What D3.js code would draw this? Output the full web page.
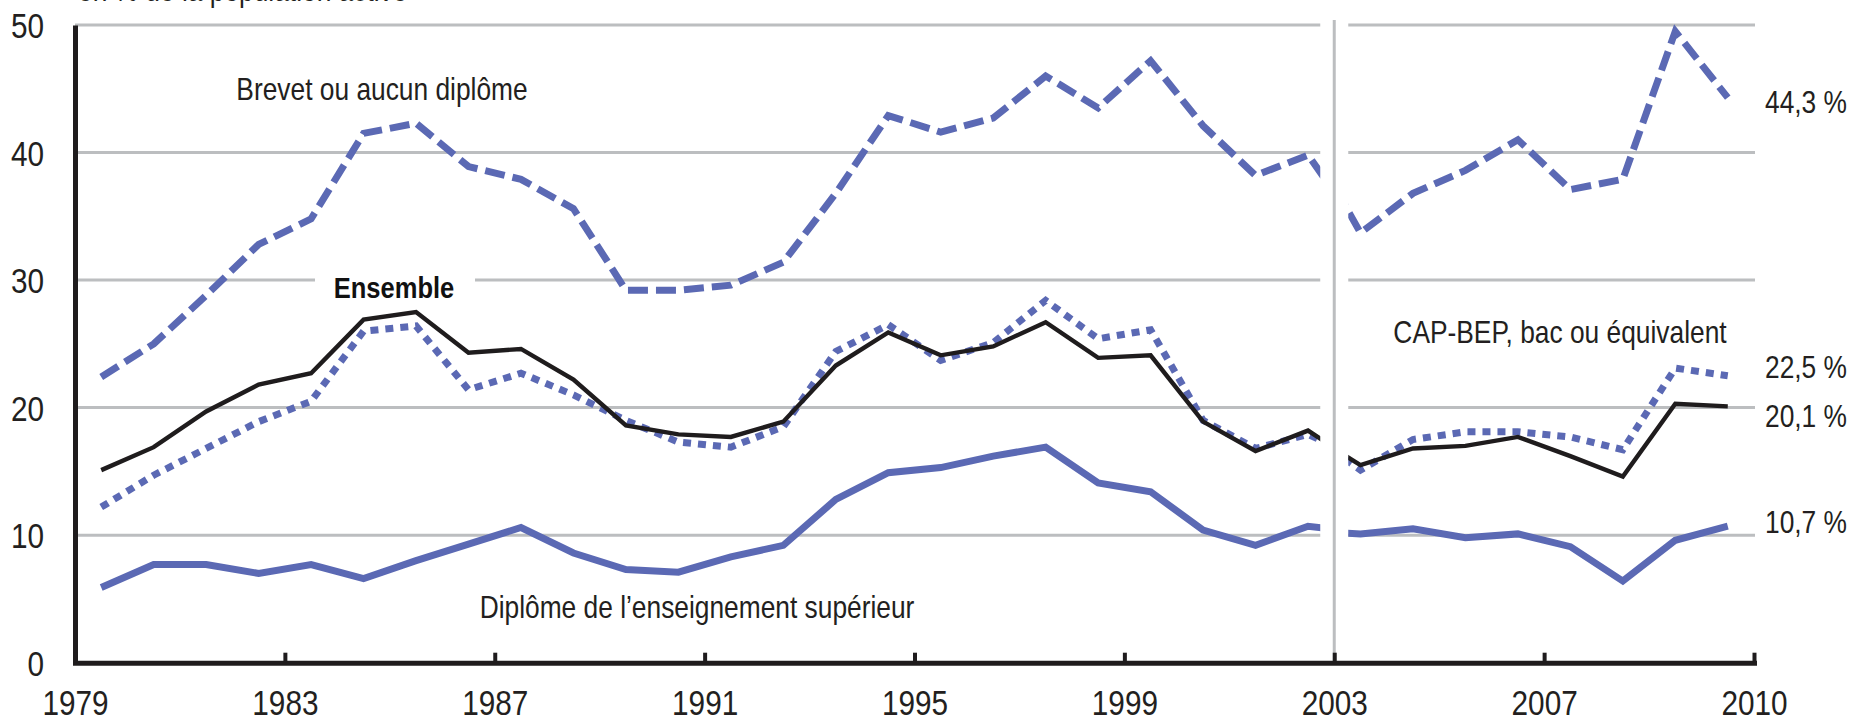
<!DOCTYPE html>
<html>
<head>
<meta charset="utf-8">
<script src="https://cdn.jsdelivr.net/npm/d3@7"></script>
<style>
  html, body { margin: 0; padding: 0; background: #fff; }
  svg text { font-family: "Liberation Sans", Arial, sans-serif; fill: #231f20; }
</style>
</head>
<body>
<div id="chart"></div>
<script>
// values (% of active population), points sit mid-year
const yearsOld = [1979, 1980, 1981, 1982, 1983, 1984, 1985, 1986, 1987, 1988, 1989, 1990,
  1991, 1992, 1993, 1994, 1995, 1996, 1997, 1998, 1999, 2000, 2001, 2002, 2003];
const brevetOld = [22.4, 25.0, 28.8, 32.8, 34.8, 41.5, 42.3, 38.9, 37.9, 35.6, 29.2, 29.2,
  29.6, 31.4, 36.8, 42.9, 41.6, 42.7, 46.0, 43.5, 47.2, 42.1, 38.2, 39.8, 34.0];
const capOld = [12.2, 14.7, 16.8, 18.9, 20.5, 26.0, 26.4, 21.4, 22.7, 21.0, 19.0, 17.3,
  16.9, 18.5, 24.4, 26.5, 23.7, 25.1, 28.4, 25.4, 26.1, 19.0, 16.8, 17.9, 16.0];
const ensembleOld = [15.1, 16.9, 19.7, 21.8, 22.7, 26.9, 27.5, 24.3, 24.6, 22.2, 18.6, 17.9,
  17.7, 18.9, 23.3, 25.9, 24.1, 24.8, 26.7, 23.9, 24.1, 18.9, 16.6, 18.2, 15.5];
const supOld = [5.9, 7.7, 7.7, 7.0, 7.7, 6.6, 8.0, 9.3, 10.6, 8.6, 7.3, 7.1,
  8.3, 9.2, 12.8, 14.9, 15.3, 16.2, 16.9, 14.1, 13.4, 10.4, 9.2, 10.7, 10.2];

const yearsNew = [2002, 2003, 2004, 2005, 2006, 2007, 2008, 2009, 2010];
const brevetNew = [41.0, 33.7, 36.8, 38.6, 41.0, 37.1, 37.9, 49.5, 44.3];
const capNew = [18.0, 15.1, 17.5, 18.1, 18.1, 17.7, 16.7, 23.1, 22.5];
const ensembleNew = [18.0, 15.5, 16.8, 17.0, 17.7, 16.2, 14.6, 20.3, 20.1];
const supNew = [10.3, 10.1, 10.5, 9.8, 10.1, 9.1, 6.4, 9.6, 10.7];

const yTicks = [0, 10, 20, 30, 40, 50];
const xTicks = [1979, 1983, 1987, 1991, 1995, 1999, 2003, 2007, 2011];
const xTickLabels = ["1979", "1983", "1987", "1991", "1995", "1999", "2003", "2007", "2010"];
const endLabels = ["44,3 %", "22,5 %", "20,1 %", "10,7 %"];

const width = 1855, height = 721;
const blue = "#5b69b4", grid = "#bcbec0", ink = "#1f1c1d";
const narrow = 0.85; // the original uses a condensed face

const svg = d3.select("#chart").append("svg")
  .attr("width", width)
  .attr("height", height);

const x = d3.scaleLinear().domain([1979, 2011]).range([75, 1754]);
const y = d3.scaleLinear().domain([0, 50]).range([662.7, 25]);

// two panels split at 2003 (change of survey)
const panels = [
  { id: "old", x0: x.range()[0], x1: x(2003) - 14 },
  { id: "new", x0: x(2003) + 14, x1: x.range()[1] + 1 }
];

svg.append("defs").selectAll("clipPath")
  .data(panels)
  .join("clipPath")
  .attr("id", d => "clip-" + d.id)
  .append("rect")
  .attr("x", d => d.x0)
  .attr("y", 0)
  .attr("width", d => d.x1 - d.x0)
  .attr("height", height);

// condensed text helper
function note(parent, t, px, py, size, anchor, bold) {
  const g = parent.append("g").attr("transform", `translate(${px},${py}) scale(${narrow},1)`);
  const txt = g.append("text")
    .attr("text-anchor", anchor)
    .style("font-size", size + "px")
    .text(t);
  if (bold) txt.style("font-weight", "bold").style("fill", "#111");
  return txt;
}

// title, mostly cut off at the top
note(svg, "en % de la population active", 78, 1, 31, "start");

// gridlines
panels.forEach(p => {
  svg.append("g").selectAll("line")
    .data(yTicks.filter(t => t > 0))
    .join("line")
    .attr("x1", p.x0)
    .attr("x2", p.x1)
    .attr("y1", d => y(d))
    .attr("y2", d => y(d))
    .attr("stroke", grid)
    .attr("stroke-width", 3);
});

// separator line at 2003
svg.append("line")
  .attr("x1", x(2003)).attr("x2", x(2003))
  .attr("y1", 20).attr("y2", y(0))
  .attr("stroke", grid)
  .attr("stroke-width", 3);

// Ensemble label with white box over the 30 gridline
svg.append("rect")
  .attr("x", 315).attr("y", 268)
  .attr("width", 160).attr("height", 34)
  .attr("fill", "#fff");
note(svg, "Ensemble", 394, 298, 30, "middle", true);

const line = d3.line()
  .x(d => x(d[0] + 0.5))
  .y(d => y(d[1]));

const series = [
  { name: "sup", old: supOld, neu: supNew, color: blue, w: 7, dash: null },
  { name: "cap", old: capOld, neu: capNew, color: blue, w: 7, dash: "8,7" },
  { name: "ens", old: ensembleOld, neu: ensembleNew, color: ink, w: 4.4, dash: null },
  { name: "brevet", old: brevetOld, neu: brevetNew, color: blue, w: 7, dash: "20,8" }
];

series.forEach(s => {
  [["old", yearsOld, s.old], ["new", yearsNew, s.neu]].forEach(([id, yrs, vals]) => {
    svg.append("path")
      .datum(yrs.map((yr, i) => [yr, vals[i]]))
      .attr("clip-path", `url(#clip-${id})`)
      .attr("fill", "none")
      .attr("stroke", s.color)
      .attr("stroke-width", s.w)
      .attr("stroke-dasharray", s.dash)
      .attr("stroke-linejoin", "miter")
      .attr("d", line);
  });
});

// y axis
const yAxis = svg.append("g")
  .attr("transform", `translate(${x.range()[0]},0)`)
  .call(d3.axisLeft(y).tickValues(yTicks).tickSize(0).tickPadding(31 / narrow));
yAxis.select(".domain").attr("stroke", ink).attr("stroke-width", 5);
yAxis.selectAll("text")
  .style("font-size", "35px")
  .attr("dy", "0.36em")
  .attr("transform", `scale(${narrow},1)`);

// x axis, ticks pointing up
const xAxis = svg.append("g")
  .attr("transform", `translate(0,${y(0)})`)
  .call(d3.axisBottom(x)
    .tickValues(xTicks)
    .tickFormat((d, i) => xTickLabels[i])
    .tickSizeInner(-10)
    .tickSizeOuter(0)
    .tickPadding(27));
xAxis.select(".domain").attr("stroke", ink).attr("stroke-width", 5).attr("stroke-linecap", "square");
xAxis.selectAll(".tick line").attr("stroke", ink).attr("stroke-width", 4);
xAxis.selectAll("text")
  .style("font-size", "35px")
  .attr("transform", `scale(${narrow},1)`);

// series labels
note(svg, "Brevet ou aucun diplôme", 382, 100, 31, "middle");
note(svg, "Diplôme de l\u2019enseignement supérieur", 697, 618, 31, "middle");
note(svg, "CAP-BEP, bac ou équivalent", 1560, 343, 31, "middle");
note(svg, endLabels[0], 1765, 113, 31, "start");
note(svg, endLabels[1], 1765, 378, 31, "start");
note(svg, endLabels[2], 1765, 427, 31, "start");
note(svg, endLabels[3], 1765, 533, 31, "start");
</script>
</body>
</html>
